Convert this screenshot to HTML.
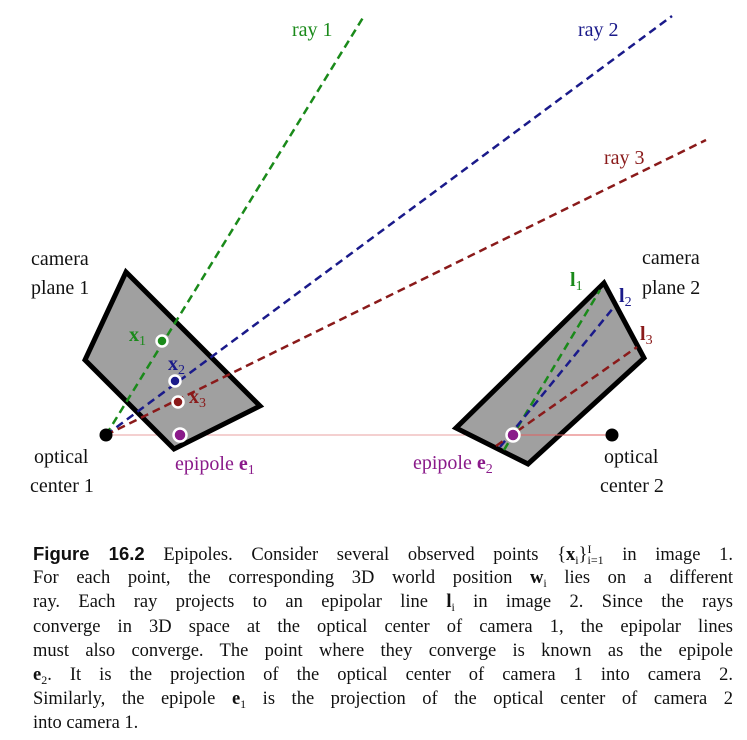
<!DOCTYPE html>
<html><head><meta charset="utf-8"><style>
body{margin:0;background:#fff;width:747px;height:740px;overflow:hidden;font-family:"Liberation Serif",serif;}
svg text{font-family:"Liberation Serif",serif;font-size:20px;}
.cap{position:absolute;left:33px;width:700px;font-size:18.5px;color:#111;text-align:justify;text-align-last:justify;white-space:nowrap;}
.cap div{height:24.2px;line-height:24.2px;overflow:visible;}
.cap sub,.cap sup{font-size:12px;line-height:0;vertical-align:baseline;position:relative;}
.cap sub{top:4px;}
.cap sup{top:-7px;}
.b{font-family:"Liberation Sans",sans-serif;font-weight:bold;}
</style></head><body>
<svg width="747" height="530" style="position:absolute;left:0;top:0">
<line x1="106" y1="435" x2="612" y2="435" stroke="#e8a0a0" stroke-width="1"/>
<polygon points="126,272 85,360 174,449 260,406" fill="#a0a0a0" stroke="#000" stroke-width="5" stroke-linejoin="miter"/>
<polygon points="604,283 644,358 528,464 456,428" fill="#a0a0a0" stroke="#000" stroke-width="5"/>
<g stroke-width="2.5" stroke-dasharray="8,5" fill="none">
<line x1="106" y1="435" x2="364" y2="16" stroke="#1a8a1a"/>
<line x1="106" y1="435" x2="672" y2="16" stroke="#1a1a8a"/>
<line x1="106" y1="435" x2="706" y2="140" stroke="#8a1a1a"/>
<line x1="504" y1="450" x2="600" y2="290" stroke="#1a8a1a"/>
<line x1="500" y1="447" x2="614" y2="307" stroke="#1a1a8a"/>
<line x1="496" y1="446" x2="637" y2="347" stroke="#8a1a1a"/>
</g>
<line x1="513" y1="435" x2="612" y2="435" stroke="#e06060" stroke-width="1"/>
<circle cx="106" cy="435" r="6.5" fill="#000"/>
<circle cx="612" cy="435" r="6.5" fill="#000"/>
<g stroke="#fff" stroke-width="2.5">
<circle cx="162" cy="341" r="5.5" fill="#1a8a1a"/>
<circle cx="175" cy="381" r="5.5" fill="#1a1a8a"/>
<circle cx="178" cy="402" r="5.5" fill="#8a1a1a"/>
<circle cx="180" cy="435" r="6.5" fill="#8a1a8a"/>
<circle cx="513" cy="435" r="6.5" fill="#8a1a8a"/>
</g>
<text x="292" y="36" fill="#1a8a1a">ray 1</text>
<text x="578" y="36" fill="#1a1a8a">ray 2</text>
<text x="604" y="164" fill="#8a1a1a">ray 3</text>
<text x="31" y="265" fill="#111">camera</text>
<text x="31" y="294" fill="#111">plane 1</text>
<text x="34" y="463" fill="#111">optical</text>
<text x="30" y="492" fill="#111">center 1</text>
<text x="642" y="264" fill="#111">camera</text>
<text x="642" y="294" fill="#111">plane 2</text>
<text x="604" y="463" fill="#111">optical</text>
<text x="600" y="492" fill="#111">center 2</text>
<text x="175" y="470" fill="#8a1a8a">epipole <tspan font-weight="bold">e</tspan><tspan font-size="14" dy="4">1</tspan></text>
<text x="413" y="469" fill="#8a1a8a">epipole <tspan font-weight="bold">e</tspan><tspan font-size="14" dy="4">2</tspan></text>
<text x="129" y="341" fill="#1a8a1a" font-weight="bold">x<tspan font-size="14" dy="4" font-weight="normal">1</tspan></text>
<text x="168" y="370" fill="#1a1a8a" font-weight="bold">x<tspan font-size="14" dy="4" font-weight="normal">2</tspan></text>
<text x="189" y="403" fill="#8a1a1a" font-weight="bold">x<tspan font-size="14" dy="4" font-weight="normal">3</tspan></text>
<text x="570" y="286" fill="#1a8a1a" font-weight="bold">l<tspan font-size="14" dy="4" font-weight="normal">1</tspan></text>
<text x="619" y="302" fill="#1a1a8a" font-weight="bold">l<tspan font-size="14" dy="4" font-weight="normal">2</tspan></text>
<text x="640" y="340" fill="#8a1a1a" font-weight="bold">l<tspan font-size="14" dy="4" font-weight="normal">3</tspan></text>
</svg>
<div class="cap" style="top:542px">
<div><span class="b">Figure 16.2</span> Epipoles. Consider several observed points {<b>x</b><sub>i</sub>}<sup>I</sup><sub style="margin-left:-4px">i=1</sub> in image 1.</div>
<div>For each point, the corresponding 3D world position <b>w</b><sub>i</sub> lies on a different</div>
<div>ray. Each ray projects to an epipolar line <b>l</b><sub>i</sub> in image 2. Since the rays</div>
<div>converge in 3D space at the optical center of camera 1, the epipolar lines</div>
<div>must also converge. The point where they converge is known as the epipole</div>
<div><b>e</b><sub>2</sub>. It is the projection of the optical center of camera 1 into camera 2.</div>
<div>Similarly, the epipole <b>e</b><sub>1</sub> is the projection of the optical center of camera 2</div>
<div style="text-align-last:left">into camera 1.</div>
</div>
</body></html>
